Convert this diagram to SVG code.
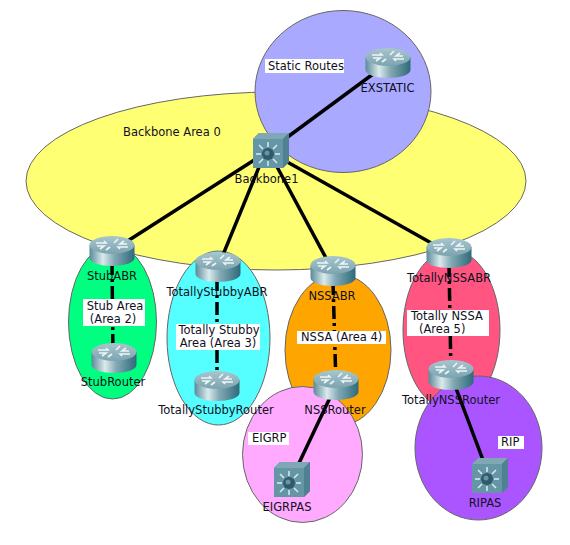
<svg xmlns="http://www.w3.org/2000/svg" width="570" height="545" viewBox="0 0 570 545">
<style>
.a{stroke:#666;stroke-width:1}
.t{font-family:"DejaVu Sans",Verdana,sans-serif;font-size:11.5px;fill:#10101e}
.m{text-anchor:middle}
.l{fill:#fff}
.c{stroke:#000;stroke-width:3.5;fill:none}
.d{stroke-dasharray:13 4 3 4;stroke-width:3.5;stroke:#000;fill:none}
</style>
<defs>
<linearGradient id="rb" x1="0" x2="1" y1="0" y2="0">
<stop offset="0" stop-color="#5a8a98"/><stop offset=".3" stop-color="#dbeaec"/><stop offset=".55" stop-color="#82a9b3"/><stop offset="1" stop-color="#2f6a7a"/>
</linearGradient>
<linearGradient id="rt" x1="0" x2="0" y1="0" y2="1">
<stop offset="0" stop-color="#a9c6ce"/><stop offset="1" stop-color="#7ba4b0"/>
</linearGradient>
<g id="router">
<path d="M-22.500-6V7C-22.500 12 -11 15 0 15S22.500 12 22.500 7V-6Z" fill="url(#rb)"/>
<ellipse cx="0" cy="-6" rx="22.500" ry="9" fill="url(#rt)"/>
<path d="M-16-8H-6L-8-10M-15-5H-8L-12-2M16-4H6L8-2M15-7H8L12-10M-2-4L-6-1M2-8L6-12" stroke="#eef5f6" stroke-width="1.600" fill="none"/>
</g>
<g id="switch">
<path d="M-18-12L-12-18H18V11L12 17H-18Z" fill="#4e8293"/>
<path d="M-18-12H12V17H-18Z" fill="#6496a6"/>
<path d="M-18-12L-12-18H18L12-12Z" fill="#7fa8b4"/>
<path d="M12-12L18-18V11L12 17Z" fill="#4f8192"/>
<circle cx="-3" cy="3" r="6" fill="#2f5a6a"/>
<circle cx="-4" cy="2" r="2.500" fill="#6b93a1"/>
<path d="M-3-9V-4M-3 10V15M-15 3H-10M4 3H9M-12-6L-8-2M6-6L2-2M-12 12L-8 8M6 12L2 8" stroke="#dfeaee" stroke-width="1.500" fill="none"/>
</g>
</defs>
<g id="areas">
<ellipse class="a" cx="276" cy="181" rx="250" ry="89" fill="#ffff73"/>
<ellipse class="a" cx="343" cy="91.500" rx="88" ry="81" fill="#a9a9ff"/>
<ellipse class="a" cx="112.500" cy="322" rx="44" ry="77" fill="#00ff80"/>
<ellipse class="a" cx="218.500" cy="338" rx="51.500" ry="87" fill="#55ffff"/>
<ellipse class="a" cx="338" cy="350" rx="53" ry="76" fill="#ffa500"/>
<ellipse class="a" cx="451.500" cy="330" rx="48.500" ry="80" fill="#ff5580"/>
<ellipse class="a" cx="478.500" cy="448" rx="63.500" ry="72" fill="#aa55ff"/>
<ellipse class="a" cx="302.500" cy="454.500" rx="60" ry="68" fill="#ffaaff"/>
</g>
<g id="connectors">
<line class="c" x1="270" y1="150" x2="388" y2="63"/>
<line class="c" x1="270" y1="150" x2="112" y2="251"/>
<line class="c" x1="266" y1="150" x2="218" y2="267"/>
<line class="c" x1="268" y1="150" x2="333" y2="271"/>
<line class="c" x1="266" y1="150" x2="449" y2="253"/>
<line class="d" x1="112" y1="262" x2="113" y2="358"/>
<line class="d" x1="217" y1="278" x2="217" y2="386"/>
<line class="d" x1="333" y1="282" x2="336" y2="385"/>
<line class="d" x1="449" y1="264" x2="451" y2="375"/>
<line class="c" x1="336" y1="385" x2="291" y2="480"/>
<line class="c" x1="451" y1="375" x2="489" y2="476"/>
</g>
<g id="labels">
<rect class="l" x="265" y="59" width="79" height="14"/><text class="t" x="268" y="70">Static Routes</text>
<rect class="l" x="83" y="299" width="62" height="27"/><text class="t m" x="115" y="310">Stub Area</text><text class="t m" x="113" y="323">(Area 2)</text>
<rect class="l" x="176" y="324" width="84" height="26"/><text class="t m" x="219" y="334">Totally Stubby</text><text class="t m" x="218" y="347">Area (Area 3)</text>
<rect class="l" x="297" y="331" width="89" height="13"/><text class="t" x="301" y="341">NSSA (Area 4)</text>
<rect class="l" x="407" y="310" width="82" height="26"/><text class="t" x="411" y="320">Totally NSSA</text><text class="t" x="419" y="333">(Area 5)</text>
<rect class="l" x="248" y="432" width="41" height="13"/><text class="t" x="252" y="442">EIGRP</text>
<rect class="l" x="498" y="436" width="26" height="13"/><text class="t" x="501" y="446">RIP</text>
<text class="t" x="123" y="136">Backbone Area 0</text>
</g>
<g id="EXSTATIC"><use href="#router" x="388" y="63"/><text class="t m" x="387.500" y="92">EXSTATIC</text></g>
<g id="Backbone1"><use href="#switch" x="271" y="151"/><text class="t m" x="266.500" y="183">Backbone1</text></g>
<g id="StubABR"><use href="#router" x="112" y="251"/><text class="t m" x="112" y="280">StubABR</text></g>
<g id="TotallyStubbyABR"><use href="#router" x="218" y="267"/><text class="t m" x="217" y="296">TotallyStubbyABR</text></g>
<g id="NSSABR"><use href="#router" x="333" y="271"/><text class="t m" x="332" y="300">NSSABR</text></g>
<g id="TotallyNSSABR"><use href="#router" x="449" y="253"/><text class="t m" x="449" y="282">TotallyNSSABR</text></g>
<g id="StubRouter"><use href="#router" x="114" y="358"/><text class="t m" x="113" y="386">StubRouter</text></g>
<g id="TotallyStubbyRouter"><use href="#router" x="217" y="386"/><text class="t m" x="216" y="414">TotallyStubbyRouter</text></g>
<g id="NSSRouter"><use href="#router" x="336" y="385"/><text class="t m" x="335" y="414">NSSRouter</text></g>
<g id="TotallyNSSRouter"><use href="#router" x="451" y="375"/><text class="t m" x="451" y="404">TotallyNSSRouter</text></g>
<g id="EIGRPAS"><use href="#switch" x="292" y="480"/><text class="t m" x="287" y="511">EIGRPAS</text></g>
<g id="RIPAS"><use href="#switch" x="490" y="476"/><text class="t m" x="485" y="507">RIPAS</text></g>
</svg>
